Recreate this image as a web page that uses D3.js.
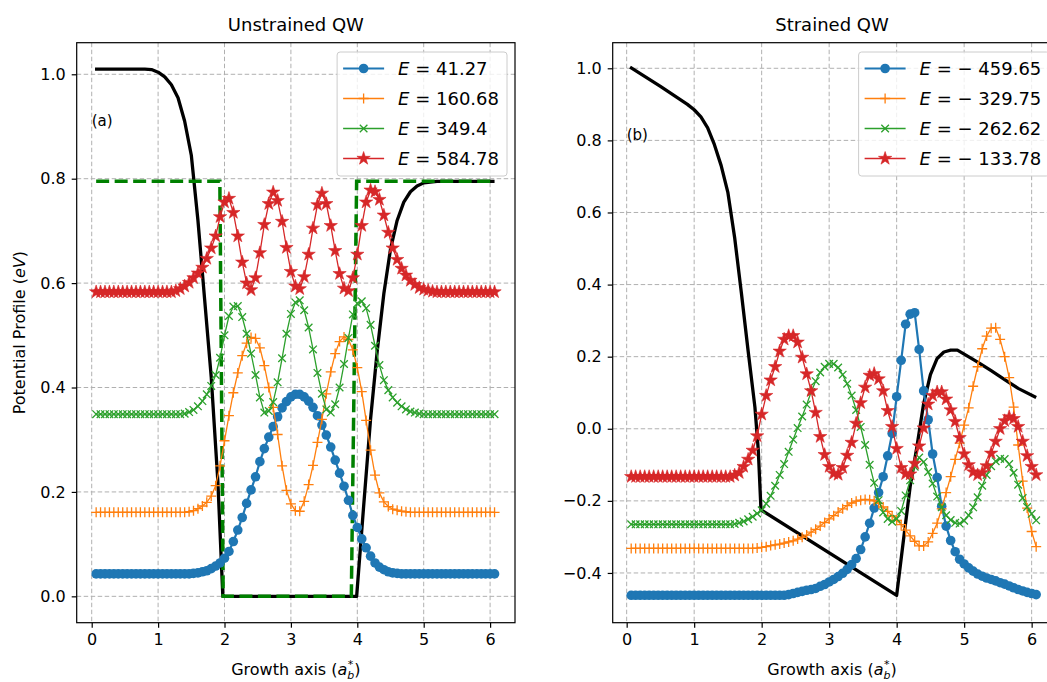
<!DOCTYPE html>
<html>
<head>
<meta charset="utf-8">
<script src="https://cdn.jsdelivr.net/npm/d3@7"></script>
<style>
  body { margin: 0; background: #fff; }
  svg text { font-family: "DejaVu Sans", sans-serif; fill: #000; }
  .grid line { stroke: #b0b0b0; stroke-width: 1; stroke-dasharray: 4.5,2.5; }
  .axis path.domain { display: none; }
  .axis line { stroke: #000; stroke-width: 1.2; }
  .axis text { font-size: 16px; }
</style>
</head>
<body>
<div id="chart"></div>
<script>
// sample positions along the growth axis (a_b*)
const xs = [0.067,0.133,0.2,0.267,0.333,0.4,0.467,0.533,0.6,0.667,
  0.733,0.8,0.867,0.933,1.0,1.067,1.133,1.2,1.267,1.333,
  1.4,1.467,1.533,1.6,1.667,1.733,1.8,1.867,1.933,2.0,
  2.067,2.133,2.2,2.267,2.333,2.4,2.467,2.533,2.6,2.667,
  2.733,2.8,2.867,2.933,3.0,3.067,3.133,3.2,3.267,3.333,
  3.4,3.467,3.533,3.6,3.667,3.733,3.8,3.867,3.933,4.0,
  4.067,4.133,4.2,4.267,4.333,4.4,4.467,4.533,4.6,4.667,
  4.733,4.8,4.867,4.933,5.0,5.067,5.133,5.2,5.267,5.333,
  5.4,5.467,5.533,5.6,5.667,5.733,5.8,5.867,5.933,6.0,
  6.067];

// (a) unstrained QW - shifted wavefunctions
const unstrainedBlue = [0.043,0.043,0.043,0.043,0.043,0.043,0.043,0.043,0.043,0.043,
  0.043,0.043,0.043,0.043,0.043,0.043,0.043,0.043,0.043,0.043,
  0.043,0.043,0.044,0.045,0.047,0.049,0.053,0.058,0.064,0.073,
  0.086,0.105,0.127,0.151,0.178,0.204,0.229,0.258,0.283,0.305,
  0.325,0.344,0.361,0.373,0.382,0.387,0.387,0.382,0.374,0.362,
  0.346,0.328,0.309,0.286,0.261,0.236,0.211,0.184,0.155,0.132,
  0.110,0.093,0.077,0.064,0.056,0.051,0.047,0.045,0.044,0.043,
  0.043,0.043,0.043,0.043,0.043,0.043,0.043,0.043,0.043,0.043,
  0.043,0.043,0.043,0.043,0.043,0.043,0.043,0.043,0.043,0.043,
  0.043];
const unstrainedOrange = [0.161,0.161,0.161,0.161,0.161,0.161,0.161,0.161,0.161,0.161,
  0.161,0.161,0.161,0.161,0.161,0.161,0.161,0.161,0.161,0.161,
  0.161,0.162,0.164,0.168,0.173,0.180,0.192,0.212,0.250,0.298,
  0.346,0.390,0.428,0.461,0.485,0.496,0.494,0.476,0.442,0.400,
  0.362,0.310,0.250,0.203,0.177,0.164,0.163,0.182,0.214,0.251,
  0.295,0.339,0.388,0.430,0.465,0.488,0.497,0.492,0.472,0.438,
  0.392,0.337,0.280,0.232,0.198,0.181,0.172,0.167,0.165,0.163,
  0.162,0.161,0.161,0.161,0.161,0.161,0.161,0.161,0.161,0.161,
  0.161,0.161,0.161,0.161,0.161,0.161,0.161,0.161,0.161,0.161,
  0.161];
const unstrainedGreen = [0.349,0.349,0.349,0.349,0.349,0.349,0.349,0.349,0.349,0.349,
  0.349,0.349,0.349,0.349,0.349,0.349,0.349,0.349,0.349,0.349,
  0.350,0.353,0.357,0.364,0.374,0.387,0.403,0.424,0.457,0.500,
  0.537,0.555,0.556,0.535,0.503,0.465,0.424,0.381,0.352,0.355,
  0.372,0.410,0.456,0.503,0.541,0.563,0.567,0.548,0.515,0.473,
  0.428,0.388,0.358,0.352,0.368,0.400,0.445,0.495,0.540,0.561,
  0.565,0.552,0.520,0.480,0.443,0.414,0.395,0.381,0.371,0.364,
  0.358,0.354,0.352,0.350,0.349,0.349,0.349,0.349,0.349,0.349,
  0.349,0.349,0.349,0.349,0.349,0.349,0.349,0.349,0.349,0.349,
  0.349];
const unstrainedRed = [0.583,0.583,0.583,0.583,0.583,0.583,0.583,0.583,0.583,0.583,
  0.583,0.583,0.583,0.583,0.583,0.583,0.583,0.583,0.585,0.589,
  0.594,0.601,0.610,0.619,0.630,0.647,0.667,0.690,0.727,0.755,
  0.762,0.735,0.690,0.640,0.600,0.587,0.610,0.658,0.712,0.752,
  0.774,0.758,0.718,0.668,0.622,0.594,0.589,0.612,0.655,0.705,
  0.750,0.772,0.752,0.710,0.662,0.618,0.590,0.585,0.610,0.655,
  0.710,0.755,0.778,0.775,0.760,0.730,0.697,0.667,0.645,0.628,
  0.615,0.605,0.597,0.591,0.588,0.586,0.584,0.583,0.583,0.583,
  0.583,0.583,0.583,0.583,0.583,0.583,0.583,0.583,0.583,0.583,
  0.583];
const unstrainedEnergies = [41.27, 160.68, 349.4, 584.78];

// (a) potential profile (solid) and square well (dashed)
const unstrainedPotX = [0.05,0.8,0.9,1.0,1.1,1.2,1.3,1.4,1.5,1.6,1.7,1.8,1.9,1.975,3.99,4.1,4.2,4.3,4.4,4.5,4.6,4.7,4.8,4.9,5.0,5.2,6.067];
const unstrainedPotY = [1.01,1.01,1.009,1.004,0.995,0.98,0.955,0.91,0.845,0.72,0.57,0.42,0.22,0.0,0.0,0.18,0.34,0.47,0.58,0.665,0.72,0.755,0.775,0.786,0.792,0.795,0.795];
const wellX = [0.067,1.93,1.98,3.91,3.99,6.067];
const wellY = [0.795,0.795,0.0,0.0,0.795,0.795];

// (b) strained QW
const strainedBlue = [-0.462,-0.462,-0.462,-0.462,-0.462,-0.462,-0.462,-0.462,-0.462,-0.462,
  -0.462,-0.462,-0.462,-0.462,-0.462,-0.462,-0.462,-0.462,-0.462,-0.462,
  -0.462,-0.462,-0.462,-0.462,-0.462,-0.462,-0.462,-0.462,-0.462,-0.462,
  -0.462,-0.462,-0.462,-0.462,-0.462,-0.460,-0.457,-0.454,-0.451,-0.448,
  -0.446,-0.443,-0.437,-0.432,-0.425,-0.418,-0.410,-0.401,-0.390,-0.377,
  -0.360,-0.335,-0.300,-0.262,-0.220,-0.177,-0.133,-0.075,-0.013,0.089,
  0.190,0.290,0.318,0.322,0.220,0.105,0.025,-0.070,-0.135,-0.215,
  -0.270,-0.310,-0.341,-0.362,-0.375,-0.386,-0.395,-0.403,-0.409,-0.414,
  -0.418,-0.422,-0.427,-0.431,-0.436,-0.441,-0.446,-0.450,-0.454,-0.457,
  -0.460];
const strainedOrange = [-0.332,-0.332,-0.332,-0.332,-0.332,-0.332,-0.332,-0.332,-0.332,-0.332,
  -0.332,-0.332,-0.332,-0.332,-0.332,-0.332,-0.332,-0.332,-0.332,-0.332,
  -0.332,-0.332,-0.332,-0.332,-0.332,-0.332,-0.332,-0.332,-0.331,-0.329,
  -0.327,-0.324,-0.322,-0.320,-0.317,-0.314,-0.311,-0.306,-0.301,-0.295,
  -0.287,-0.279,-0.270,-0.260,-0.250,-0.241,-0.231,-0.222,-0.213,-0.206,
  -0.201,-0.198,-0.196,-0.197,-0.200,-0.207,-0.217,-0.229,-0.242,-0.254,
  -0.266,-0.281,-0.297,-0.312,-0.325,-0.325,-0.314,-0.290,-0.262,-0.222,
  -0.177,-0.133,-0.085,-0.040,0.010,0.058,0.118,0.172,0.222,0.257,
  0.279,0.280,0.248,0.200,0.142,0.060,-0.045,-0.145,-0.220,-0.285,
  -0.327];
const strainedGreen = [-0.265,-0.265,-0.265,-0.265,-0.265,-0.265,-0.265,-0.265,-0.265,-0.265,
  -0.265,-0.265,-0.265,-0.265,-0.265,-0.265,-0.265,-0.265,-0.265,-0.265,
  -0.265,-0.265,-0.265,-0.264,-0.261,-0.257,-0.251,-0.244,-0.235,-0.226,
  -0.208,-0.186,-0.158,-0.128,-0.098,-0.064,-0.030,0.002,0.034,0.067,
  0.102,0.132,0.156,0.172,0.180,0.180,0.170,0.150,0.125,0.092,
  0.052,0.005,-0.045,-0.100,-0.150,-0.198,-0.232,-0.250,-0.258,-0.250,
  -0.228,-0.185,-0.143,-0.105,-0.080,-0.092,-0.120,-0.152,-0.188,-0.218,
  -0.240,-0.253,-0.261,-0.263,-0.255,-0.240,-0.218,-0.190,-0.158,-0.128,
  -0.104,-0.090,-0.083,-0.084,-0.098,-0.122,-0.155,-0.192,-0.217,-0.236,
  -0.254];
const strainedRed = [-0.133,-0.133,-0.133,-0.133,-0.133,-0.133,-0.133,-0.133,-0.133,-0.133,
  -0.133,-0.133,-0.133,-0.133,-0.133,-0.133,-0.133,-0.133,-0.133,-0.133,
  -0.133,-0.133,-0.133,-0.129,-0.122,-0.105,-0.085,-0.060,-0.020,0.040,
  0.092,0.135,0.172,0.215,0.248,0.258,0.258,0.240,0.198,0.152,
  0.105,0.045,-0.022,-0.072,-0.105,-0.124,-0.127,-0.108,-0.074,-0.038,
  0.015,0.072,0.115,0.148,0.153,0.138,0.105,0.050,0.006,-0.055,
  -0.108,-0.125,-0.126,-0.096,-0.048,0.002,0.068,0.092,0.102,0.102,
  0.082,0.052,0.020,-0.025,-0.070,-0.100,-0.120,-0.128,-0.122,-0.103,
  -0.068,-0.035,0.000,0.022,0.033,0.028,0.006,-0.035,-0.075,-0.105,
  -0.128];
const strainedEnergies = [-459.65, -329.75, -262.62, -133.78];

const strainedPotX = [0.05,0.5,0.9,1.0,1.1,1.2,1.3,1.4,1.5,1.6,1.7,1.8,1.9,1.95,1.99,4.0,4.1,4.2,4.3,4.4,4.5,4.6,4.7,4.8,4.9,5.0,5.2,5.4,5.6,5.8,6.067];
const strainedPotY = [1.003,0.95,0.90,0.885,0.865,0.835,0.788,0.73,0.655,0.53,0.376,0.215,0.06,-0.059,-0.225,-0.462,-0.31,-0.16,-0.05,0.07,0.15,0.195,0.213,0.218,0.218,0.207,0.185,0.161,0.136,0.112,0.087];

const xTicks = [0, 1, 2, 3, 4, 5, 6];
const unstrainedYTicks = [0.0, 0.2, 0.4, 0.6, 0.8, 1.0];
const strainedYTicks = [-0.4, -0.2, 0.0, 0.2, 0.4, 0.6, 0.8, 1.0];

const seriesStyle = [
    {color: "#1f77b4", marker: "circle", width: 2.2},
    {color: "#ff7f0e", marker: "plus", width: 1.3},
    {color: "#2ca02c", marker: "x", width: 1.3},
    {color: "#d62728", marker: "star", width: 1.3}
];

function drawMarkers(sel, style, pts) {
    if (style.marker === "circle") {
        sel.selectAll("circle").data(pts).join("circle")
            .attr("cx", d => d[0]).attr("cy", d => d[1]).attr("r", 4.8)
            .attr("fill", style.color);
    } else if (style.marker === "star") {
        sel.selectAll("path").data(pts).join("path")
            .attr("transform", d => `translate(${d[0]},${d[1]})`)
            .attr("d", d3.symbol(d3.symbolStar).size(55))
            .attr("fill", style.color).attr("stroke", style.color).attr("stroke-width", 0.6);
    } else {
        let shape = style.marker === "plus" ? "M-5,0H5M0,-5V5" : "M-3.8,-3.8L3.8,3.8M-3.8,3.8L3.8,-3.8";
        sel.selectAll("path").data(pts).join("path")
            .attr("transform", d => `translate(${d[0]},${d[1]})`)
            .attr("d", shape)
            .attr("fill", "none").attr("stroke", style.color).attr("stroke-width", 1.3);
    }
}

function energyLabel(e) {
    return e < 0 ? " = \u2212 " + Math.abs(e) : " = " + e;
}

class QWPanel {

    constructor(svg, cfg) {
        this.svg = svg;
        this.cfg = cfg;
        this.initVis();
    }

    initVis() {
        let vis = this, c = vis.cfg;

        vis.x = d3.scaleLinear().domain(c.xDomain).range([c.left, c.right]);
        vis.y = d3.scaleLinear().domain(c.yDomain).range([c.bottom, c.top]);
        vis.g = vis.svg.append("g");

        // dashed grid
        let grid = vis.g.append("g").attr("class", "grid");
        grid.selectAll("line.gx").data(xTicks).join("line").attr("class", "gx")
            .attr("x1", d => vis.x(d)).attr("x2", d => vis.x(d))
            .attr("y1", c.top).attr("y2", c.bottom);
        grid.selectAll("line.gy").data(c.yTicks).join("line").attr("class", "gy")
            .attr("x1", c.left).attr("x2", c.right)
            .attr("y1", d => vis.y(d)).attr("y2", d => vis.y(d));

        // axes
        vis.g.append("g").attr("class", "axis")
            .attr("transform", `translate(0,${c.bottom})`)
            .call(d3.axisBottom(vis.x).tickValues(xTicks).tickFormat(d3.format("d")).tickSize(5).tickPadding(6));
        vis.g.append("g").attr("class", "axis")
            .attr("transform", `translate(${c.left},0)`)
            .call(d3.axisLeft(vis.y).tickValues(c.yTicks).tickFormat(d3.format(".1f")).tickSize(5).tickPadding(6));

        vis.updateVis();
    }

    updateVis() {
        let vis = this, c = vis.cfg;
        let line = d3.line().x(d => vis.x(d[0])).y(d => vis.y(d[1]));

        // potential profile
        vis.g.append("path")
            .datum(c.potX.map((v, i) => [v, c.potY[i]]))
            .attr("fill", "none").attr("stroke", "#000").attr("stroke-width", 3.3)
            .attr("stroke-linejoin", "round")
            .attr("d", line);

        if (c.wellX) {
            vis.g.append("path")
                .datum(c.wellX.map((v, i) => [v, c.wellY[i]]))
                .attr("fill", "none").attr("stroke", "#008000").attr("stroke-width", 3.5)
                .attr("stroke-dasharray", "13,5.5")
                .attr("d", line);
        }

        // wavefunctions
        c.series.forEach((vals, k) => {
            let st = seriesStyle[k];
            let pts = xs.map((v, i) => [v, vals[i]]);
            let sg = vis.g.append("g");
            sg.append("path").datum(pts)
                .attr("fill", "none").attr("stroke", st.color).attr("stroke-width", st.width)
                .attr("d", line);
            drawMarkers(sg.append("g"), st, pts.map(p => [vis.x(p[0]), vis.y(p[1])]));
        });

        // frame
        vis.g.append("rect")
            .attr("x", c.left).attr("y", c.top)
            .attr("width", c.right - c.left).attr("height", c.bottom - c.top)
            .attr("fill", "none").attr("stroke", "#000").attr("stroke-width", 1.2);

        // panel tag
        vis.g.append("text")
            .attr("x", vis.x(c.tagPos[0])).attr("y", vis.y(c.tagPos[1]))
            .attr("font-size", "15px")
            .text(c.tag);

        // title
        vis.g.append("text")
            .attr("x", (c.left + c.right) / 2 + c.titleShift).attr("y", 31)
            .attr("text-anchor", "middle").attr("font-size", "18px")
            .text(c.title);

        // x-axis title
        let xt = vis.g.append("text")
            .attr("x", (c.left + c.right) / 2 + c.titleShift).attr("y", 675)
            .attr("text-anchor", "middle").attr("font-size", "16px");
        xt.append("tspan").text("Growth axis (");
        xt.append("tspan").attr("font-style", "italic").text("a");
        xt.append("tspan").attr("font-style", "italic").attr("font-size", "11px").attr("dy", 3.5).text("b");
        xt.append("tspan").attr("font-size", "11px").attr("dx", -6.5).attr("dy", -11).text("*");
        xt.append("tspan").attr("dy", 7.5).attr("dx", 1).text(")");

        vis.drawLegend();
    }

    drawLegend() {
        let vis = this, c = vis.cfg;
        let lg = vis.g.append("g");
        let rows = lg.selectAll("g.row").data(c.energies).join("g").attr("class", "row")
            .attr("transform", (d, i) => `translate(0,${16.5 + i * 30})`);

        rows.each(function (d, i) {
            let r = d3.select(this), st = seriesStyle[i];
            r.append("line").attr("x1", 6).attr("x2", 47)
                .attr("stroke", st.color).attr("stroke-width", st.width);
            drawMarkers(r.append("g"), st, [[26.5, 0]]);
            let t = r.append("text").attr("x", 61).attr("dy", "0.36em")
                .attr("font-size", "18px").style("white-space", "pre");
            t.append("tspan").attr("font-style", "italic").text("E");
            t.append("tspan").text(energyLabel(d));
        });

        let w = d3.max(rows.nodes(), n => n.querySelector("text").getComputedTextLength()) + 61 + 8;
        lg.insert("rect", ":first-child")
            .attr("width", w).attr("height", 124).attr("rx", 3)
            .attr("fill", "#fff").attr("fill-opacity", 0.8)
            .attr("stroke", "#cccccc").attr("stroke-width", 1);
        lg.attr("transform", `translate(${c.right - 8 - w},52)`);
    }
}

const svg = d3.select("#chart").append("svg")
    .attr("width", 1047).attr("height", 682);

new QWPanel(svg, {
    left: 76.7, right: 515, top: 42.7, bottom: 622.7,
    xDomain: [-0.226, 6.375], yDomain: [-0.0505, 1.0605],
    yTicks: unstrainedYTicks,
    series: [unstrainedBlue, unstrainedOrange, unstrainedGreen, unstrainedRed],
    energies: unstrainedEnergies,
    potX: unstrainedPotX, potY: unstrainedPotY,
    wellX: wellX, wellY: wellY,
    title: "Unstrained QW", titleShift: 0,
    tag: "(a)", tagPos: [0.0, 0.9]
});

new QWPanel(svg, {
    left: 612.7, right: 1057.3, top: 42.7, bottom: 622.7,
    xDomain: [-0.207, 6.38], yDomain: [-0.538, 1.071],
    yTicks: strainedYTicks,
    series: [strainedBlue, strainedOrange, strainedGreen, strainedRed],
    energies: strainedEnergies,
    potX: strainedPotX, potY: strainedPotY,
    title: "Strained QW", titleShift: -3,
    tag: "(b)", tagPos: [0.0, 0.80]
});

// y-axis title (left panel only)
svg.append("text")
    .attr("transform", "translate(25,332.7) rotate(-90)")
    .attr("text-anchor", "middle").attr("font-size", "16px")
    .call(t => {
        t.append("tspan").text("Potential Profile (");
        t.append("tspan").attr("font-style", "italic").text("eV");
        t.append("tspan").text(")");
    });
</script>
</body>
</html>
